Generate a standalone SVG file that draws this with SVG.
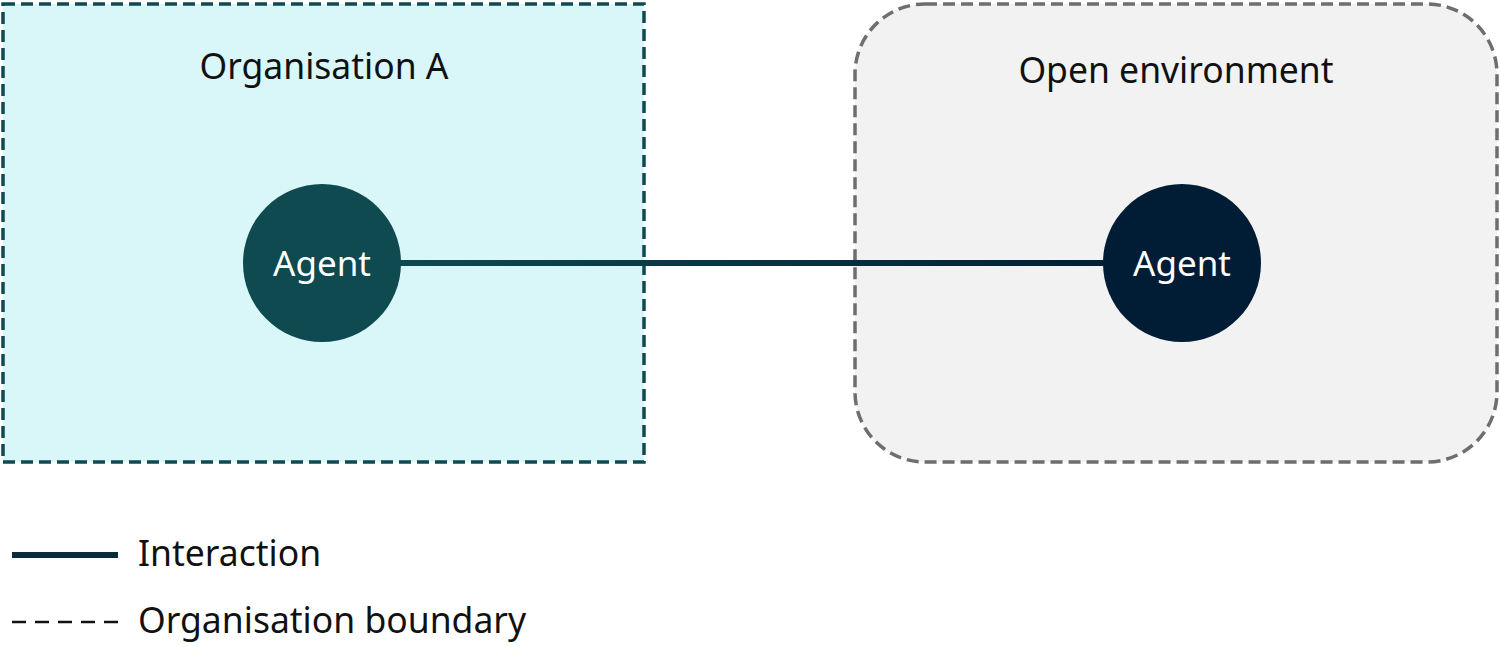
<svg xmlns="http://www.w3.org/2000/svg" width="1500" height="647" viewBox="0 0 1500 647">
<style>
.lbl{font-family:"Noto Sans","Open Sans",sans-serif;font-size:35.5px;fill:#111;}
.agent{font-family:"Noto Sans","Open Sans",sans-serif;font-size:35px;fill:#fff;text-anchor:middle;}
</style>
<defs>
<linearGradient id="lg" gradientUnits="userSpaceOnUse" x1="400" y1="263" x2="1105" y2="263">
<stop offset="0" stop-color="#0e4a4f"/>
<stop offset="1" stop-color="#021f35"/>
</linearGradient>
</defs>
<rect width="1500" height="647" fill="#fff"/>
<g id="orgA">
<rect x="3" y="4" width="641" height="458" fill="#d9f6f8" stroke="#0e4a4f" stroke-width="3.5" stroke-dasharray="12 6"/>
<text class="lbl" x="324" y="79" text-anchor="middle">Organisation A</text>
</g>
<g id="openEnv">
<rect x="855" y="4" width="642" height="458" rx="70" ry="70" fill="#f2f2f2" stroke="#6e6e6e" stroke-width="3.5" stroke-dasharray="12 6"/>
<text class="lbl" x="1176" y="83" text-anchor="middle">Open environment</text>
</g>
<g id="connectors">
<line x1="400" y1="263" x2="1105" y2="263" stroke="url(#lg)" stroke-width="6"/>
</g>
<g id="agentA">
<circle cx="322" cy="263" r="79" fill="#0e4a4f"/>
<text class="agent" x="322" y="276">Agent</text>
</g>
<g id="agentB">
<circle cx="1182" cy="263" r="79" fill="#001d35"/>
<text class="agent" x="1182" y="276">Agent</text>
</g>
<g id="legend">
<line x1="12" y1="555" x2="118" y2="555" stroke="#0b2a3c" stroke-width="6"/>
<text class="lbl" x="138" y="566">Interaction</text>
<line x1="12" y1="622" x2="118" y2="622" stroke="#111" stroke-width="2.5" stroke-dasharray="14 9"/>
<text class="lbl" x="138" y="633">Organisation boundary</text>
</g>
</svg>
